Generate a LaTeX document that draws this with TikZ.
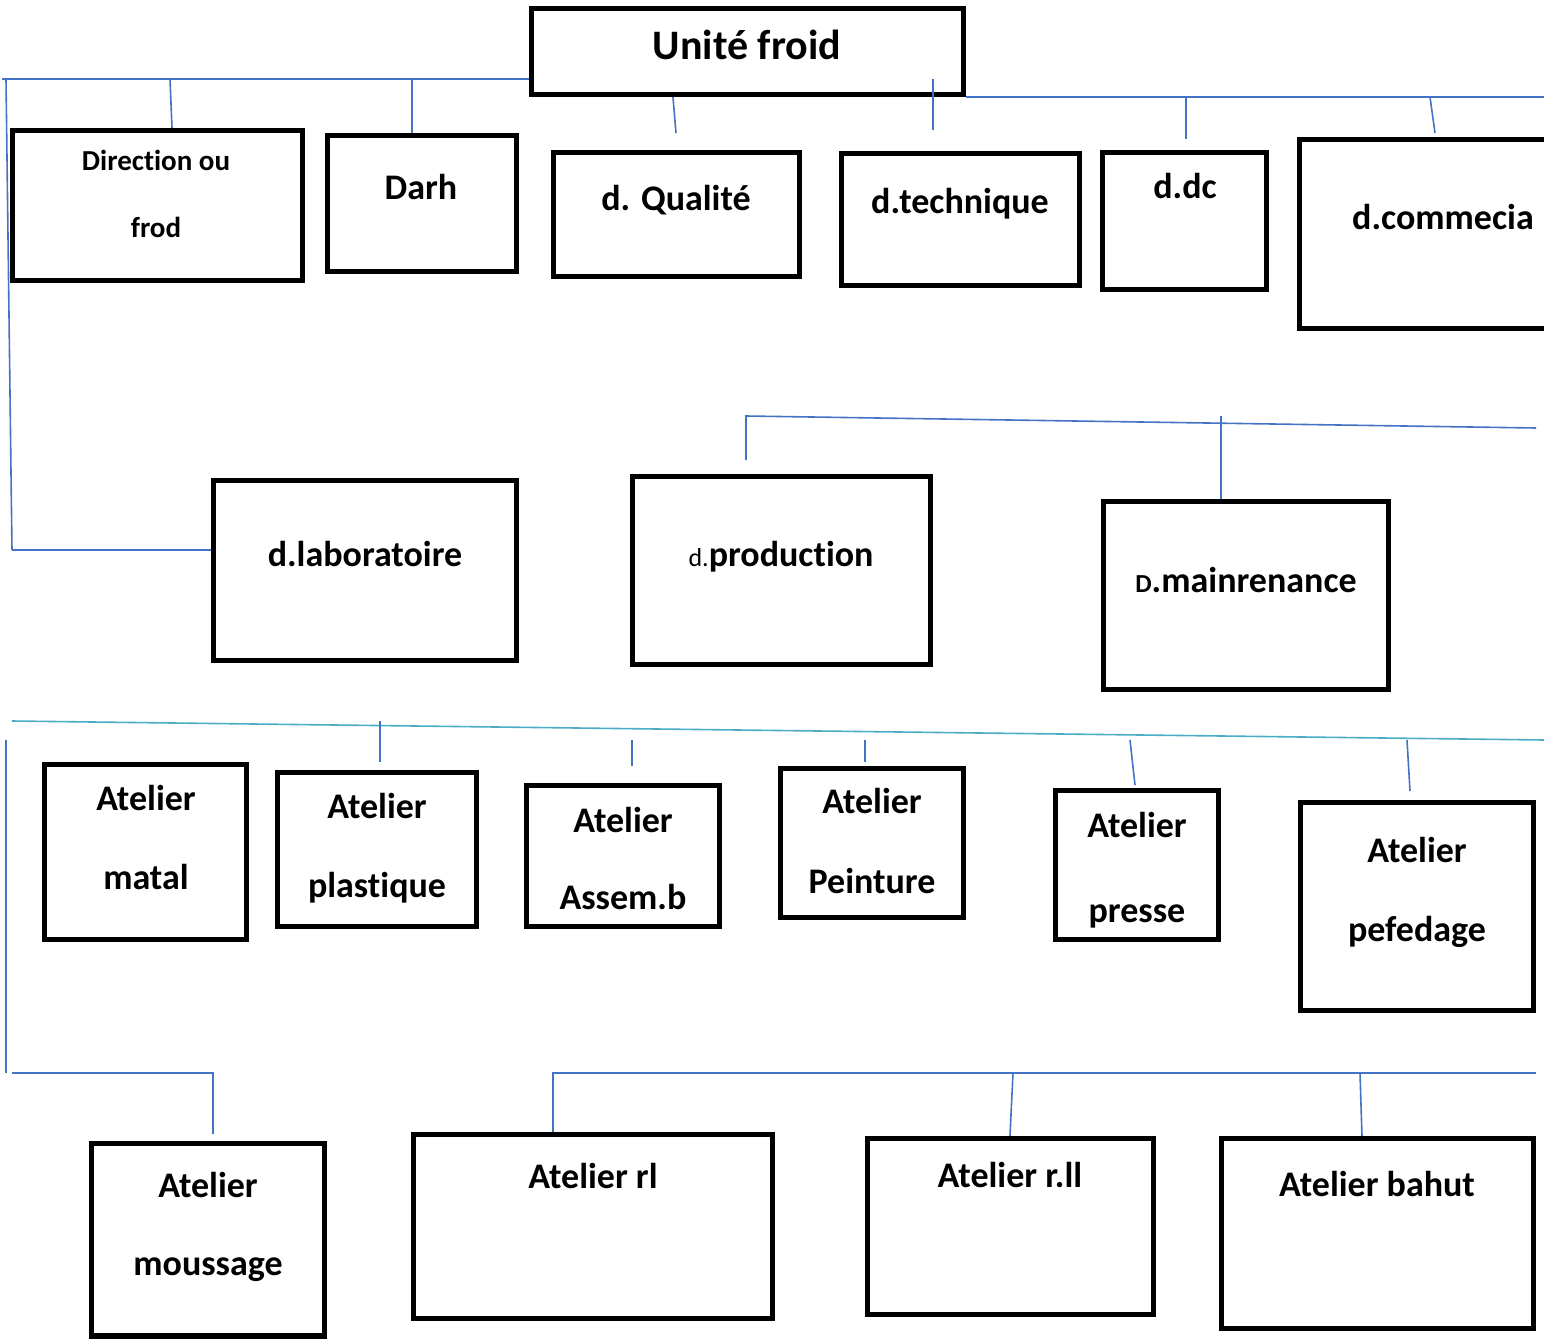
\documentclass[tikz,border=0pt]{standalone}
\usepackage{fontspec}
\setmainfont{Carlito}[Ligatures=NoCommon]
\usepackage{xcolor}
\usetikzlibrary{fit}
\definecolor{linkblue}{RGB}{68,114,196}
\definecolor{linkteal}{RGB}{75,172,198}

\begin{document}
\begin{tikzpicture}[x=0.5pt, y=-0.5pt]
\tikzstyle{unit}=[draw, line width=2.7pt, inner sep=0pt]
\tikzstyle{lbl}=[anchor=base, align=center, inner sep=0pt, font=\bfseries\fontsize{18}{39.5}\selectfont]
\tikzstyle{link}=[color=linkblue, line width=0.8pt]
\useasboundingbox (0,0) rectangle (1544,1339);
\clip (0,0) rectangle (1544,1339);

% boxes
\node[unit, fit={(531.5,8.5) (963.5,94.5)}] (uf) {};
\node[unit, fit={(12.5,130.5) (302.5,280.5)}] (dir) {};
\node[unit, fit={(327.5,135.5) (516.5,271.5)}] (darh) {};
\node[unit, fit={(553.5,152.5) (799.5,276.5)}] (qual) {};
\node[unit, fit={(841.5,153.5) (1079.5,285.5)}] (tech) {};
\node[unit, fit={(1102.5,152.5) (1266.5,289.5)}] (ddc) {};
\node[unit, fit={(1299.5,139.5) (1560,328.5)}] (comm) {};
\node[unit, fit={(213.5,480.5) (516.5,660.5)}] (lab) {};
\node[unit, fit={(632.5,476.5) (930.5,664.5)}] (prod) {};
\node[unit, fit={(1103.5,501.5) (1388.5,689.5)}] (maint) {};
\node[unit, fit={(44.5,764.5) (246.5,939.5)}] (matal) {};
\node[unit, fit={(277.5,772.5) (476.5,926.5)}] (plast) {};
\node[unit, fit={(526.5,785.5) (719.5,926.5)}] (assem) {};
\node[unit, fit={(780.5,768.5) (963.5,917.5)}] (peint) {};
\node[unit, fit={(1055.5,790.5) (1218.5,939.5)}] (presse) {};
\node[unit, fit={(1300.5,802.5) (1533.5,1010.5)}] (pefed) {};
\node[unit, fit={(91.5,1143.5) (324.5,1336)}] (mouss) {};
\node[unit, fit={(413.5,1134.5) (772.5,1318.5)}] (rl) {};
\node[unit, fit={(867.5,1138.5) (1153.5,1314.5)}] (rll) {};
\node[unit, fit={(1221.5,1138.5) (1533.5,1328.5)}] (bahut) {};

% texts (two-line ones sit on their last baseline)
\node[lbl, font=\bfseries\fontsize{21}{25}\selectfont] (uf-t) at (747,59) {Unité froid};
\node[lbl, font=\bfseries\fontsize{14.5}{33.5}\selectfont] (dir-t) at (156,237) {Direction ou\\frod};
\node[lbl] (darh-t) at (421,199) {Darh};
\node[lbl] (qual-t) at (676,210) {d. Qualité};
\node[lbl] (tech-t) at (960,213) {d.technique};
\node[lbl] (ddc-t) at (1185,198) {d.dc};
\node[lbl] (comm-t) at (1443,229) {d.commecia};
\node[lbl] (lab-t) at (365,566) {d.laboratoire};
\node[lbl] (prod-t) at (781,566) {{\mdseries\fontsize{13}{13}\selectfont d.}production};
\node[lbl] (maint-t) at (1246,592) {{\fontsize{13}{13}\selectfont D}.mainrenance};
\node[lbl] (matal-t) at (146,889) {Atelier\\matal};
\node[lbl] (plast-t) at (377,897) {Atelier\\plastique};
\node[lbl, font=\bfseries\fontsize{18}{38.5}\selectfont] (assem-t) at (623,909) {Atelier\\Assem.b};
\node[lbl, font=\bfseries\fontsize{18}{40}\selectfont] (peint-t) at (872,893) {Atelier\\Peinture};
\node[lbl, font=\bfseries\fontsize{18}{42.5}\selectfont] (presse-t) at (1137,922) {Atelier\\presse};
\node[lbl] (pefed-t) at (1417,941) {Atelier\\pefedage};
\node[lbl, font=\bfseries\fontsize{18}{39}\selectfont] (mouss-t) at (208,1275) {Atelier\\moussage};
\node[lbl] (rl-t) at (593,1188) {Atelier rl};
\node[lbl] (rll-t) at (1010,1187) {Atelier r.ll};
\node[lbl] (bahut-t) at (1377,1196) {Atelier bahut};

% upper links
\coordinate (busA) at (2,79);
\coordinate (sideA) at (6,79);
\coordinate (sideB) at (12,550);
\coordinate (tapDir) at (170,79);
\coordinate (tapDarh) at (412,79);
\coordinate (stubQual) at (676,133);
\coordinate (tapTech) at (933,79);
\coordinate (stubTech) at (933,130);
\coordinate (busB) at (1544,97);
\coordinate (tapDdc) at (1186,97);
\coordinate (stubDdc) at (1186,139);
\coordinate (tapComm) at (1430,97);
\coordinate (stubComm) at (1435,133);

\path[link]
(busA) edge (uf.west |- busA)
(tapDir) edge (dir.north -| 172,0)
(tapDarh) edge (darh.north -| tapDarh)
(uf.south -| 673,0) edge (stubQual)
(tapTech) edge (stubTech)
(uf.east |- busB) edge (busB)
(tapDdc) edge (stubDdc)
(tapComm) edge (stubComm)
(sideA) edge (sideB);
\draw[link] (sideB) -- (sideB -| lab.west);

% middle links
\coordinate (stubProd) at (746,460);
\coordinate (busC) at (746,416);
\coordinate (busCe) at (1536,428);
\coordinate (tapMaint) at (1221,416);
\draw[link] (stubProd) -- (busC) -- (busCe);
\path[link] (tapMaint) edge (maint.north -| tapMaint);

% workshops links
\coordinate (busD) at (12,721);
\coordinate (busDe) at (1544,740);
\draw[link, color=linkteal] (busD) -- (busDe);
\coordinate (tapPlast) at (380,721);
\coordinate (stubPlast) at (380,762);
\coordinate (tapAssem) at (632,740);
\coordinate (stubAssem) at (632,766);
\coordinate (tapPeint) at (865,740);
\coordinate (stubPeint) at (865,762);
\coordinate (tapPresse) at (1130,740);
\coordinate (stubPresse) at (1135,785);
\coordinate (tapPefed) at (1407,740);
\coordinate (stubPefed) at (1410,791);
\coordinate (sideC) at (6,740);
\coordinate (sideD) at (6,1073);

\path[link]
(tapPlast) edge (stubPlast)
(tapAssem) edge (stubAssem)
(tapPeint) edge (stubPeint)
(tapPresse) edge (stubPresse)
(tapPefed) edge (stubPefed)
(sideC) edge (sideD);

% lower links
\coordinate (busE) at (12,1073);
\coordinate (stubMouss) at (213,1134);
\coordinate (busF) at (553,1073);
\coordinate (busFe) at (1536,1073);
\coordinate (tapRll) at (1013,1073);
\coordinate (tapBahut) at (1360,1073);
\draw[link] (busE) -- (stubMouss |- busE) -- (stubMouss);
\draw[link] (rl.north -| busF) -- (busF) -- (busFe);
\path[link]
(tapRll) edge (rll.north -| 1010,0)
(tapBahut) edge (bahut.north -| 1362,0);

\end{tikzpicture}
\end{document}
